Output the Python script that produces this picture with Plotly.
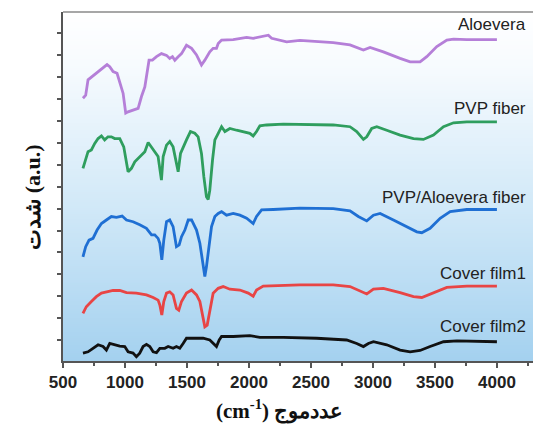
import numpy as np
import plotly.graph_objects as go

# ---------------- data ----------------
aloe_x = [661, 683, 702, 742, 783, 823, 855, 877, 904, 936, 958, 985, 1006, 1025, 1065, 1106, 1133, 1160, 1194, 1221,
          1254, 1294, 1335, 1361, 1383, 1402, 1429, 1456, 1496, 1537, 1577, 1604, 1617, 1644, 1684, 1711, 1738, 1752,
          1779, 1873, 1981, 2034, 2142, 2156, 2183, 2304, 2411, 2680, 2815, 2923, 2977, 3084, 3219, 3300, 3380, 3434,
          3515, 3596, 3650, 3757, 4000]
aloe_y = [6.52, 6.59, 6.94, 7.03, 7.13, 7.20, 7.29, 7.24, 7.13, 7.09, 6.86, 6.63, 6.18, 6.21, 6.25, 6.29, 6.56, 6.78,
          7.39, 7.39, 7.47, 7.54, 7.50, 7.43, 7.47, 7.39, 7.47, 7.54, 7.73, 7.66, 7.51, 7.35, 7.28, 7.39, 7.58, 7.66,
          7.66, 7.77, 7.85, 7.86, 7.91, 7.89, 7.94, 7.96, 7.89, 7.81, 7.84, 7.79, 7.74, 7.62, 7.68, 7.58, 7.43, 7.35,
          7.35, 7.47, 7.70, 7.85, 7.87, 7.86, 7.86]

pvp_x = [661, 683, 702, 729, 756, 783, 810, 836, 863, 890, 917, 958, 990, 1025, 1052, 1079, 1119, 1160, 1187, 1214,
         1240, 1267, 1294, 1308, 1335, 1361, 1388, 1415, 1429, 1448, 1469, 1496, 1528, 1563, 1590, 1617, 1636, 1657,
         1671, 1684, 1706, 1725, 1752, 1779, 1806, 1846, 1900, 1954, 2007, 2034, 2061, 2088, 2142, 2277, 2546, 2680,
         2815, 2869, 2923, 2950, 2990, 3031, 3111, 3219, 3327, 3407, 3488, 3569, 3650, 3757, 4000]
pvp_y = [4.92, 5.15, 5.30, 5.34, 5.49, 5.60, 5.66, 5.57, 5.64, 5.64, 5.60, 5.60, 5.41, 4.84, 4.92, 5.07, 5.19, 5.30,
         5.51, 5.41, 5.30, 5.19, 4.65, 5.19, 5.45, 5.53, 5.41, 5.03, 4.84, 5.26, 5.41, 5.57, 5.76, 5.72, 5.64, 5.26,
         4.73, 4.27, 4.21, 4.42, 5.11, 5.57, 5.72, 5.87, 5.76, 5.83, 5.79, 5.76, 5.72, 5.66, 5.76, 5.89, 5.91, 5.93,
         5.92, 5.91, 5.87, 5.76, 5.58, 5.64, 5.83, 5.87, 5.79, 5.68, 5.60, 5.58, 5.68, 5.87, 5.96, 5.98, 5.98]

blend_x = [661, 683, 710, 742, 775, 810, 850, 890, 931, 977, 1012, 1065, 1119, 1173, 1214, 1240, 1267, 1281, 1297,
           1313, 1335, 1361, 1388, 1415, 1437, 1456, 1483, 1510, 1537, 1577, 1604, 1630, 1644, 1657, 1679, 1698, 1725,
           1752, 1779, 1819, 1873, 1927, 1981, 2034, 2061, 2102, 2196, 2411, 2680, 2815, 2882, 2950, 3004, 3058, 3165,
           3273, 3354, 3394, 3461, 3542, 3623, 3757, 4000]
blend_y = [2.90, 3.13, 3.28, 3.32, 3.51, 3.66, 3.74, 3.82, 3.80, 3.83, 3.74, 3.70, 3.63, 3.55, 3.40, 3.40, 3.32, 3.21,
           2.83, 3.28, 3.70, 3.74, 3.59, 3.13, 3.17, 3.36, 3.51, 3.74, 3.74, 3.51, 3.21, 2.75, 2.45, 2.67, 3.13, 3.59,
           3.82, 3.89, 3.93, 3.85, 3.89, 3.85, 3.78, 3.66, 3.82, 3.97, 3.98, 4.01, 4.00, 3.95, 3.82, 3.72, 3.85, 3.89,
           3.74, 3.59, 3.47, 3.45, 3.55, 3.78, 3.93, 3.98, 3.98]

film1_x = [661, 688, 729, 769, 810, 850, 904, 958, 1012, 1092, 1173, 1227, 1267, 1281, 1297, 1313, 1335, 1361, 1388,
           1415, 1434, 1456, 1496, 1537, 1577, 1604, 1625, 1644, 1663, 1684, 1711, 1752, 1792, 1846, 1927, 1994, 2034,
           2061, 2115, 2411, 2680, 2815, 2882, 2950, 3004, 3084, 3219, 3327, 3394, 3488, 3596, 3757, 4000]
film1_y = [1.61, 1.76, 1.88, 1.99, 2.07, 2.10, 2.13, 2.13, 2.08, 2.07, 2.03, 1.97, 1.91, 1.80, 1.57, 1.88, 2.07, 2.10,
           2.03, 1.72, 1.68, 1.88, 2.07, 2.14, 2.03, 1.88, 1.61, 1.30, 1.34, 1.68, 2.07, 2.18, 2.22, 2.16, 2.14, 2.07,
           2.00, 2.14, 2.23, 2.26, 2.26, 2.22, 2.13, 2.05, 2.16, 2.18, 2.08, 1.99, 1.97, 2.08, 2.20, 2.23, 2.23]

film2_x = [661, 702, 742, 783, 823, 850, 877, 917, 958, 998, 1025, 1065, 1092, 1119, 1146, 1173, 1200, 1227, 1254,
           1281, 1321, 1348, 1388, 1415, 1442, 1469, 1496, 1550, 1630, 1684, 1711, 1738, 1760, 1779, 1873, 2007, 2088,
           2277, 2546, 2788, 2869, 2923, 2963, 3004, 3111, 3219, 3300, 3380, 3461, 3569, 3677, 3811, 4000]
film2_y = [0.70, 0.73, 0.81, 0.89, 0.85, 0.77, 0.92, 0.89, 0.86, 0.85, 0.73, 0.70, 0.62, 0.70, 0.85, 0.90, 0.85, 0.73,
           0.71, 0.81, 0.81, 0.85, 0.81, 0.85, 0.81, 0.92, 1.04, 1.04, 1.04, 1.00, 0.92, 0.85, 1.00, 1.08, 1.08, 1.10,
           1.06, 1.06, 1.04, 1.00, 0.92, 0.85, 0.92, 0.96, 0.89, 0.77, 0.73, 0.76, 0.85, 0.96, 0.98, 0.97, 0.96]

series_names = ["Aloevera", "PVP fiber", "PVP/Aloevera fiber", "Cover film1", "Cover film2"]
series_x = [aloe_x, pvp_x, blend_x, film1_x, film2_x]
series_y = [aloe_y, pvp_y, blend_y, film1_y, film2_y]
series_colors = ["#b57fd8", "#2f9e5e", "#1f6fd3", "#e84545", "#111111"]
label_y = [8.21, 6.29, 4.25, 2.52, 1.30]
label_x = 4250

x_ticks = [500, 1000, 1500, 2000, 2500, 3000, 3500, 4000]
x_range = [500, 4291]
y_range = [0.52, 8.49]

# ---------------- figure ----------------
fig = go.Figure()

# gradient background (white top -> light blue bottom)
bg_edges = np.linspace(y_range[0], y_range[1], 181)
bg_vals = (bg_edges[:-1] + bg_edges[1:]) / 2
fig.add_trace(go.Heatmap(
    x=x_range, y=bg_edges, z=[[v] for v in bg_vals],
    colorscale=[[0, "#a4d1ef"], [0.45, "#d2e9f8"], [0.85, "#f7fbfe"], [1, "#ffffff"]],
    showscale=False, hoverinfo="skip", zmin=y_range[0], zmax=y_range[1],
))

for name, xs, ys, col in zip(series_names, series_x, series_y, series_colors):
    fig.add_trace(go.Scatter(x=xs, y=ys, mode="lines", name=name,
                             line=dict(color=col, width=2.8), showlegend=False))

for name, ly in zip(series_names, label_y):
    fig.add_annotation(x=label_x, y=ly, text=name, showarrow=False, xanchor="right",
                       yanchor="middle", font=dict(family="Liberation Sans, Arial", size=17, color="#222222"))

fig.add_annotation(xref="paper", yref="paper", x=0.46, y=-0.14, yanchor="middle",
                   text="<b>(cm<sup>-1</sup>) عددموج</b>", showarrow=False,
                   font=dict(family="Liberation Serif, DejaVu Serif", size=21, color="#111111"))
fig.add_annotation(xref="paper", yref="paper", x=-0.095, y=0.47, textangle=-90,
                   text="<b>شدت (a.u.)</b>", showarrow=False,
                   font=dict(family="Liberation Serif, DejaVu Serif", size=22, color="#111111"))

fig.add_shape(type="line", xref="paper", yref="paper", x0=0, x1=1, y0=1, y1=1,
              line=dict(color="#8a8a8a", width=1.5))

fig.update_layout(
    width=533, height=429,
    margin=dict(l=63, r=0, t=12, b=68),
    paper_bgcolor="white", plot_bgcolor="white",
    xaxis=dict(range=x_range, tickvals=x_ticks, ticks="outside", ticklen=5, tickwidth=1.5,
               tickcolor="#555555", showline=True, linecolor="#555555", linewidth=2,
               showgrid=False, zeroline=False,
               tickfont=dict(family="Liberation Sans, Arial", size=17, color="#222222", weight="bold"),
               minor=dict(dtick=250, tick0=500, ticks="outside", ticklen=3, tickcolor="#555555",
                          showgrid=True, gridcolor="rgba(190,190,190,0.25)", gridwidth=1)),
    yaxis=dict(range=y_range, tickvals=[1, 2, 3, 4, 5, 6, 7, 8], showticklabels=False,
               ticks="outside", ticklen=4, tickwidth=1.5, tickcolor="#555555",
               showline=True, linecolor="#555555", linewidth=2,
               showgrid=True, gridcolor="#c4c4c4", griddash="dot", gridwidth=1, zeroline=False,
               minor=dict(dtick=0.5, tick0=0.5, ticks="outside", ticklen=4, tickcolor="#555555",
                          showgrid=False)),
)

fig.write_html("out.html", config={"displayModeBar": False},
               post_script="document.body.style.margin='0';document.body.style.overflow='hidden';"
                           "document.documentElement.style.overflow='hidden';")
